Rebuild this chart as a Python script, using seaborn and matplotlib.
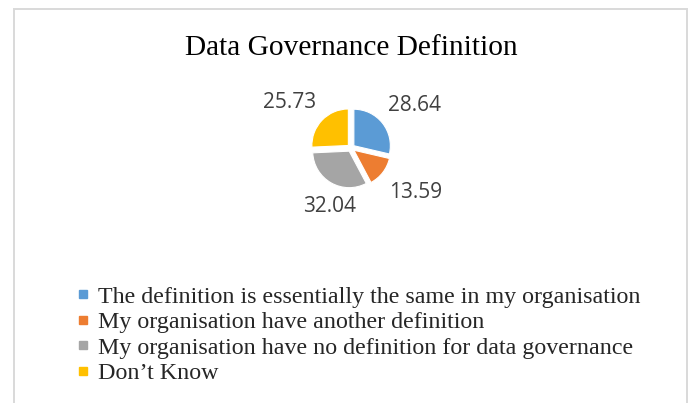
import matplotlib
matplotlib.use("Agg")
import matplotlib.pyplot as plt
from matplotlib.lines import Line2D
from matplotlib.patches import Rectangle
import seaborn as sns

# --- data ---
categories = [
    "The definition is essentially the same in my organisation",
    "My organisation have another definition",
    "My organisation have no definition for data governance",
    "Don\u2019t Know",
]
values = [28.64, 13.59, 32.04, 25.73]
colors = ["#5B9BD5", "#ED7D31", "#A5A5A5", "#FFC000"]
title = "Data Governance Definition"

# label positions (pie radius units, relative to pie centre)
label_pos = [(1.75, 1.16), (1.77, -1.23), (-0.59, -1.60), (-1.68, 1.26)]

sns.set_theme(style="white")
W, H = 692, 403
fig = plt.figure(figsize=(W / 100, H / 100), dpi=100)
fig.patch.set_facecolor("white")

# chart frame
fig.patches.append(Rectangle((13.5 / W, -0.05), (687 - 13.5) / W, 1.05 - 9.5 / H,
                             transform=fig.transFigure, fill=False,
                             edgecolor="#d9d9d9", linewidth=1.4, clip_on=False))

fig.text(351 / W, 1 - 48 / H, title, ha="center", va="center",
         fontsize=21.2, family="Liberation Serif", color="black")

# pie axes: 36.5 px per unit, centred on (351, 148)
ax = fig.add_axes([205 / W, (403 - 257.5) / H, 292 / W, 219 / H])
wedges, _ = ax.pie(values, colors=colors, startangle=90, counterclock=False,
                   explode=[0.1] * 4, radius=1,
                   wedgeprops=dict(edgecolor="white", linewidth=0.8))
ax.set_xlim(-4, 4)
ax.set_ylim(-3, 3)
ax.set_aspect("equal")
ax.axis("off")

for v, (x, y) in zip(values, label_pos):
    ax.text(x, y, f"{v:.2f}", ha="center", va="center", fontsize=15,
            family="Open Sans", color="#404040")

handles = [Line2D([], [], linestyle="none", marker="s", markersize=5.5,
                  markerfacecolor=c, markeredgecolor=c) for c in colors]
fig.legend(handles, categories, loc="upper left",
           bbox_to_anchor=(76 / W, 1 - 286 / H), frameon=False,
           prop=dict(family="Liberation Serif", size=17.3),
           handlelength=0.6, handletextpad=0.3, labelspacing=0.15,
           borderpad=0, borderaxespad=0)

fig.savefig("out.png", dpi=100)
